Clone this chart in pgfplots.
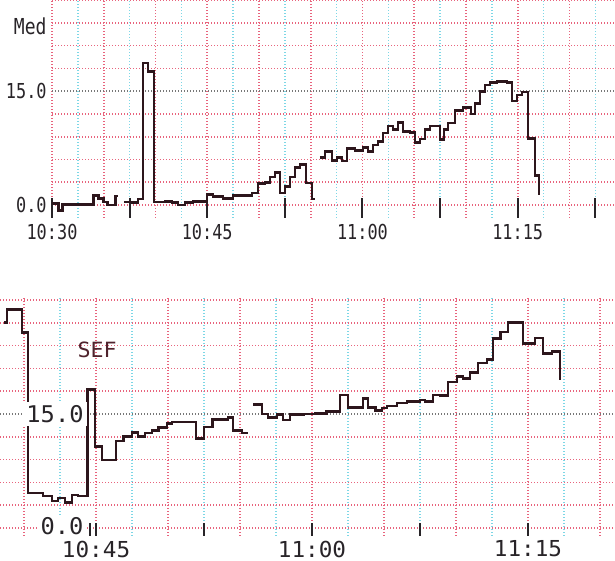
\documentclass[border=0pt]{standalone}
\usepackage{pgfplots}
\pgfplotsset{compat=1.18}
\usepackage{fontspec}
\newfontfamily\lcdtop[FakeStretch=0.82]{DejaVu Sans Mono}
\newfontfamily\lcdbot[FakeStretch=1.03]{DejaVu Sans Mono}

\definecolor{gridred}{RGB}{232,100,125}
\definecolor{gridcyan}{RGB}{125,215,230}
\definecolor{gridgray}{RGB}{120,120,120}
\definecolor{tracecol}{RGB}{45,22,28}
\definecolor{ink}{RGB}{40,36,40}

% strip-chart look shared by both panels
\pgfplotsset{
  strip/.style={
    scale only axis,
    axis x line*=bottom, axis y line*=left,
    axis line style={draw=none},
    xtick={0,5,...,55}, minor xtick={2.5,7.5,...,52.5},
    xticklabels={},
    grid=both,
    major grid style={gridred, line width=0.8pt, dash pattern=on 0.5pt off 1pt},
    minor grid style={gridcyan, line width=0.8pt, dash pattern=on 0.5pt off 1pt},
    major tick length=0pt, minor tick length=0pt,
    xtick align=inside,
    ytick style={draw=none},
    extra y ticks={15}, extra y tick labels={},
    extra y tick style={grid=major, major grid style={gridgray, line width=0.8pt, dash pattern=on 0.5pt off 1pt}},
    clip=false,
  },
  tr/.style={const plot, tracecol, line width=1.4pt, line join=miter, mark=none},
}

\begin{document}
\begin{tikzpicture}
\path[use as bounding box] (0,0) rectangle (307.5pt,280.5pt);

% ---- Med panel ----
\begin{axis}[strip,
  at={(26pt,171.5pt)}, anchor=south west,
  width=281.5pt, height=109pt,
  xmin=0, xmax=54.4, ymin=-1.7, ymax=27,
  ytick={0,3,...,27}, yticklabels={0.0,,,,,15.0,,,,},
  yticklabel style={font={\lcdtop\fontsize{10.3}{12}\selectfont}, ink, anchor=east, inner sep=0pt, xshift=-2.5pt},
  extra x ticks={0,7.5,...,52.5},
  extra x tick labels={10:30,,10:45,,11:00,,11:15,},
  extra x tick style={grid=none, major tick length=10pt, tick style={ink, line width=1pt}},
  xticklabel style={font={\lcdtop\fontsize{10.3}{12}\selectfont}, ink, anchor=center, yshift=-7pt},
]
\addplot[tr] coordinates {
  (0,0.2) (0.6,-0.7) (1.0,0.1) (4.0,1.3) (4.5,0.9) (5.0,0.4) (5.4,0.0) (6.1,1.2) (6.4,1.2)
};
\addplot[tr] coordinates {
  (6.96,0.4) (7.73,0.3) (8.31,0.8) (8.79,18.7) (9.28,17.6) (9.86,0.4) (10.92,0.5)
  (11.59,0.3) (12.17,0.0) (12.85,0.3) (13.62,0.5) (14.98,1.4) (15.56,1.1) (16.52,0.9)
  (17.49,1.3) (19.32,1.6) (19.90,2.8) (20.58,3.0) (21.06,3.7) (21.55,4.3) (22.03,1.6)
  (22.51,2.4) (23.00,3.7) (23.48,5.0) (23.96,5.3) (24.54,2.9) (25.12,0.8) (25.41,0.8)
};
\addplot[tr] coordinates {
  (25.89,6.3) (26.38,7.1) (27.05,5.9) (27.54,6.3) (28.02,5.8) (28.50,7.5) (29.28,7.2)
  (30.05,7.6) (30.53,7.1) (31.01,7.9) (31.50,8.4) (31.98,9.5) (32.46,10.4) (32.95,9.9)
  (33.43,10.9) (33.91,9.7) (34.59,9.6) (35.07,8.2) (35.56,8.7) (36.04,9.9) (36.52,10.4)
  (37.49,8.6) (37.87,9.9) (38.26,10.8) (38.94,12.5) (39.71,12.8) (40.48,12.0) (40.87,13.4)
  (41.35,15.0) (41.84,15.8) (42.32,16.1) (42.99,16.3) (43.96,16.1) (44.44,13.7) (44.93,14.5)
  (45.41,14.9) (45.99,8.8) (46.67,3.9) (47.05,1.3)
};
\node[font={\lcdtop\fontsize{11}{13}\selectfont}, ink] at (axis cs:-2.1,23.6) {Med};
\end{axis}

% ---- SEF panel ----
\begin{axis}[strip,
  at={(0pt,12.7pt)}, anchor=south west,
  width=307.5pt, height=118.56pt,
  xmin=8.33, xmax=51.04, ymin=-1, ymax=30.2,
  ytick={0,3,...,30}, yticklabels={},
  extra x ticks={14.6,15,22.5,30,37.5,45},
  extra x tick labels={,10:45,,11:00,,11:15},
  extra x tick style={grid=none, major tick length=6.5pt, tick style={ink, line width=1pt}},
  xticklabel style={font={\lcdbot\fontsize{11}{13}\selectfont}, ink, anchor=center, yshift=-6.7pt},
]
\addplot[tr] coordinates {
  (8.61,27.0) (8.82,28.7) (9.86,25.7) (10.28,4.6) (11.32,4.2) (11.94,3.55) (12.36,3.95)
  (12.85,3.4) (13.33,4.35) (13.75,4.2) (14.38,18.2) (14.93,10.7) (15.42,8.95) (16.39,11.45)
  (16.88,12.0) (17.50,12.6) (17.92,12.0) (18.40,12.5) (18.89,12.8) (19.31,13.2) (19.93,13.7)
  (20.28,13.95) (21.94,11.8) (22.50,13.3) (23.06,14.3) (24.17,14.5) (24.51,12.8) (25.14,12.5)
  (25.56,12.5)
};
\addplot[tr] coordinates {
  (25.90,16.2) (26.53,15.0) (26.94,14.5) (27.57,14.9) (27.99,14.2) (28.47,14.9) (29.38,15.0)
  (30.2,15.1) (31.0,15.3) (31.94,17.5) (32.50,15.9) (33.54,17.0) (33.89,15.9) (34.38,15.5)
  (34.86,15.8) (35.21,16.05) (35.90,16.45) (36.60,16.6) (37.50,16.85) (37.85,16.6) (38.40,17.5)
  (38.89,17.4) (39.44,19.2) (40.07,19.9) (40.49,19.7) (40.97,20.5) (41.53,21.7) (42.15,22.2)
  (42.57,24.9) (43.06,25.8) (43.61,27.0) (44.65,24.3) (45.49,25.0) (46.04,23.0) (46.67,23.2)
  (47.22,19.5)
};
\node[font={\lcdbot\fontsize{10.5}{12}\selectfont}, color={rgb,255:red,80;green,35;blue,45}] at (axis cs:15.07,23.4) {SEF};
\node[font={\lcdbot\fontsize{11.5}{13}\selectfont}, ink, fill=white, inner sep=1.5pt] at (axis cs:12.15,15) {15.0};
\node[font={\lcdbot\fontsize{11.5}{13}\selectfont}, ink, fill=white, inner sep=1pt] at (axis cs:12.64,0.3) {0.0};
\end{axis}
\end{tikzpicture}
\end{document}
